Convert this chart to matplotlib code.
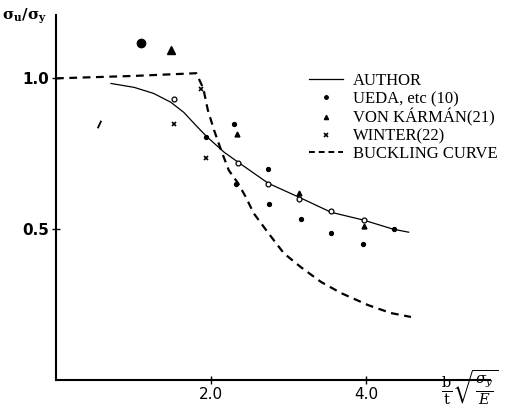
import numpy as np
import matplotlib
matplotlib.use('Agg')
import matplotlib.pyplot as plt
from matplotlib.lines import Line2D

plt.rcParams['mathtext.fontset'] = 'dejavuserif'

# buckling curve (dashed)
buck_x = [0.0, 1.0, 1.81, 1.90, 1.96, 2.04, 2.13, 2.23, 2.35, 2.45, 2.55, 2.74, 2.94,
          3.16, 3.42, 3.68, 4.03, 4.32, 4.58]
buck_y = [1.0, 1.008, 1.017, 0.967, 0.894, 0.828, 0.762, 0.695, 0.652, 0.606, 0.553, 0.487,
          0.42, 0.374, 0.325, 0.288, 0.248, 0.222, 0.209]

# author's curve (solid)
auth_x = [0.71, 1.01, 1.26, 1.48, 1.65, 1.78, 1.94, 2.17, 2.35, 2.74, 3.16, 3.55, 3.97, 4.35, 4.55]
auth_y = [0.983, 0.970, 0.950, 0.921, 0.887, 0.851, 0.808, 0.755, 0.722, 0.652, 0.603, 0.556,
          0.530, 0.50, 0.49]

# author's computed points (open circles on curve)
calc_x = [1.52, 2.35, 2.74, 3.14, 3.55, 3.97]
calc_y = [0.93, 0.72, 0.651, 0.60, 0.56, 0.53]

# test data
ueda_x = [2.30, 1.94, 2.74, 2.75, 3.16, 3.55, 3.96, 4.36, 2.32]
ueda_y = [0.85, 0.806, 0.70, 0.585, 0.533, 0.487, 0.45, 0.50, 0.65]
karman_x = [2.34, 3.14, 3.97]
karman_y = [0.815, 0.62, 0.51]
winter_x = [1.52, 1.94, 1.87]
winter_y = [0.85, 0.737, 0.964]

# off-scale big marks near the top
big_dot = (1.10, 1.118)
big_tri = (1.48, 1.095)
slash = (0.55, 0.85)

fig = plt.figure(figsize=(5.1, 4.08), dpi=100)
ax = fig.add_axes([56/510, 28/408, 434/510, 365/408])

ax.plot(buck_x, buck_y, color='black', lw=1.6, ls=(0, (3.5, 2.5)))
ax.plot(auth_x, auth_y, color='black', lw=0.9)
ax.plot(calc_x, calc_y, ls='none', marker='o', ms=3.5, mfc='white', mec='black', mew=0.9)
ax.plot(ueda_x, ueda_y, ls='none', marker='o', ms=2.8, color='black')
ax.plot(karman_x, karman_y, ls='none', marker='^', ms=3.5, color='black')
ax.plot(winter_x, winter_y, ls='none', marker='x', ms=3, mew=1.2, color='black')
ax.plot(*big_dot, ls='none', marker='o', ms=6, color='black')
ax.plot(*big_tri, ls='none', marker='^', ms=6, color='black')
ax.plot(*slash, ls='none', marker=(2, 0, -25), ms=6, mew=1.3, color='black')

ax.set_xlim(0, 5.6)
ax.set_ylim(0, 1.21)
for s in ['top', 'right']:
    ax.spines[s].set_visible(False)
for s in ['left', 'bottom']:
    ax.spines[s].set_linewidth(1.5)

ax.set_xticks([2.0, 4.0])
ax.set_xticklabels(['2.0', '4.0'])
ax.set_yticks([0.5, 1.0])
ax.set_yticklabels(['0.5', '1.0'], fontweight='bold')
ax.tick_params(direction='inout', length=6, width=1, labelsize=11, pad=2)

handles = [
    Line2D([], [], color='black', lw=0.9),
    Line2D([], [], ls='none', marker='o', ms=2.5, color='black'),
    Line2D([], [], ls='none', marker='^', ms=3, color='black'),
    Line2D([], [], ls='none', marker='x', ms=2.5, mew=1.2, color='black'),
    Line2D([], [], color='black', lw=1.4, ls=(0, (3, 2))),
]
labels = ['AUTHOR', 'UEDA, etc (10)', 'VON KÁRMÁN(21)', 'WINTER(22)', 'BUCKLING CURVE']
ax.legend(handles, labels, loc='upper left', bbox_to_anchor=(245/434, 1 - 50/365),
          frameon=False, prop={'family': 'Liberation Serif', 'size': 12},
          handlelength=2.0, handletextpad=0.6, labelspacing=0.1, borderpad=0)

fig.text(2/510, 1 - 16/408, r'$\mathbf{\sigma_u/\sigma_y}$', fontsize=11, va='center', ha='left')
fig.text(470/510, 1 - 387/408, r'$\frac{\mathrm{b}}{\mathrm{t}}\sqrt{\frac{\sigma_y}{E}}$',
         fontsize=15, va='center', ha='center')

fig.savefig('out.png', dpi=100)
